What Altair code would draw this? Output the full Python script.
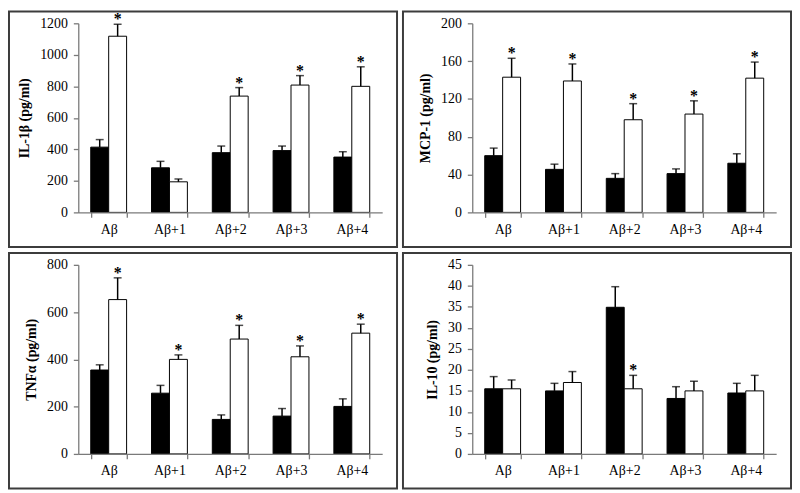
import altair as alt
import pandas as pd

categories = ["Aβ", "Aβ+1", "Aβ+2", "Aβ+3", "Aβ+4"]
groups = ["black", "white"]

# IL-1β
il1b_black = [414, 283, 379, 392, 351]
il1b_black_sd = [48, 41, 42, 29, 34]
il1b_white = [1118, 194, 738, 808, 800]
il1b_white_sd = [76, 18, 54, 60, 124]
il1b_star = [1, 0, 1, 1, 1]

# MCP-1
mcp_black = [60, 45.5, 36, 41, 52]
mcp_black_sd = [8, 5.5, 5, 5, 10]
mcp_white = [143, 139, 98, 104, 142]
mcp_white_sd = [20, 18, 17, 14, 17]
mcp_star = [1, 1, 1, 1, 1]

# TNFα
tnf_black = [355, 257, 146, 160, 201]
tnf_black_sd = [22, 33, 19, 32, 32]
tnf_white = [653, 400, 486, 411, 511]
tnf_white_sd = [92, 19, 58, 46, 38]
tnf_star = [1, 1, 1, 1, 1]

# IL-10
il10_black = [15.5, 15.0, 34.9, 13.2, 14.5]
il10_black_sd = [2.9, 1.8, 4.9, 2.8, 2.3]
il10_white = [15.5, 17.0, 15.5, 15.0, 15.0]
il10_white_sd = [2.1, 2.6, 3.2, 2.3, 3.7]
il10_star = [0, 0, 1, 0, 0]

W, H = 307, 191
FONT = "Liberation Serif"
AXIS_GREY = "#7a7a7a"


def make_df(black, black_sd, white, white_sd, star):
    rows = []
    for i, c in enumerate(categories):
        rows.append({"cat": c, "group": "black", "val": black[i],
                     "err": black[i] + black_sd[i], "star": 0})
        rows.append({"cat": c, "group": "white", "val": white[i],
                     "err": white[i] + white_sd[i], "star": star[i]})
    return pd.DataFrame(rows)


def panel(df, title, ymax, ticks):
    xscale = alt.Scale(paddingInner=0.41, paddingOuter=0.205)
    xaxis = alt.Axis(labelAngle=0, ticks=True, tickBand="extent",
                     tickSize=5, labelPadding=5, domain=True, title=None,
                     zindex=1, domainColor=AXIS_GREY, tickColor=AXIS_GREY,
                     domainWidth=1.3, tickWidth=1.3, domainOpacity=1, tickOpacity=1)
    x = alt.X("cat:N", sort=categories, title=None, scale=xscale, axis=xaxis)
    xo = alt.XOffset("group:N", sort=groups,
                     scale=alt.Scale(paddingInner=0, paddingOuter=0))
    yscale = alt.Scale(domain=[0, ymax], nice=False, zero=True)
    yaxis = alt.Axis(values=ticks, format="d", grid=False,
                     title=title, ticks=True, tickSize=5,
                     domain=True, zindex=1,
                     labelOverlap=False, labelFlush=False,
                     labelPadding=6, titlePadding=8,
                     domainColor=AXIS_GREY, tickColor=AXIS_GREY,
                     domainWidth=1.3, tickWidth=1.3, domainOpacity=1, tickOpacity=1)
    base = alt.Chart(df)
    bars = base.mark_bar(stroke="#000000", strokeWidth=1).encode(
        x=x, xOffset=xo,
        y=alt.Y("val:Q", scale=yscale, axis=yaxis, title=title),
        color=alt.Color("group:N", scale=alt.Scale(domain=groups,
                        range=["#000000", "#ffffff"]), legend=None),
    )
    rule = base.mark_rule(color="#000000", strokeWidth=1.5).encode(
        x=x, xOffset=xo,
        y=alt.Y("val:Q", scale=yscale, axis=yaxis, title=title), y2="err:Q")
    cap = base.mark_tick(color="#000000", thickness=1.5, size=8,
                         orient="horizontal").encode(
        x=x, xOffset=xo,
        y=alt.Y("err:Q", scale=yscale, axis=yaxis, title=title))
    star = base.transform_filter("datum.star == 1").mark_text(
        text="*", font=FONT, fontSize=16, fontWeight="bold",
        baseline="alphabetic", dy=0, color="#000000").encode(
        x=x, xOffset=xo,
        y=alt.Y("err:Q", scale=yscale, axis=yaxis, title=title))
    frame = alt.Chart(pd.DataFrame({"a": [0]})).mark_rect(
        filled=False, stroke="#3c3c3c", strokeWidth=2).encode(
        x=alt.value(-70), x2=alt.value(W + 15),
        y=alt.value(-12), y2=alt.value(H + 35))
    return alt.layer(bars, rule, cap, star, frame).properties(width=W, height=H)


p1 = panel(make_df(il1b_black, il1b_black_sd, il1b_white, il1b_white_sd, il1b_star),
           "IL-1β (pg/ml)", 1200, [0, 200, 400, 600, 800, 1000, 1200])
p2 = panel(make_df(mcp_black, mcp_black_sd, mcp_white, mcp_white_sd, mcp_star),
           "MCP-1 (pg/ml)", 200, [0, 40, 80, 120, 160, 200])
p3 = panel(make_df(tnf_black, tnf_black_sd, tnf_white, tnf_white_sd, tnf_star),
           "TNFα (pg/ml)", 800, [0, 200, 400, 600, 800])
p4 = panel(make_df(il10_black, il10_black_sd, il10_white, il10_white_sd, il10_star),
           "IL-10 (pg/ml)", 45, [0, 5, 10, 15, 20, 25, 30, 35, 40, 45])

chart = alt.concat(p1, p2, p3, p4, columns=2, spacing=4).properties(
    padding=0, background="#ffffff"
).configure_view(stroke=None).configure_axis(
    labelFont=FONT, labelFontSize=14, labelColor="#000000",
    titleFont=FONT, titleFontSize=14, titleFontWeight="bold", titleColor="#000000",
)

chart.save("out.html", embed_options={"renderer": "svg", "actions": False})
